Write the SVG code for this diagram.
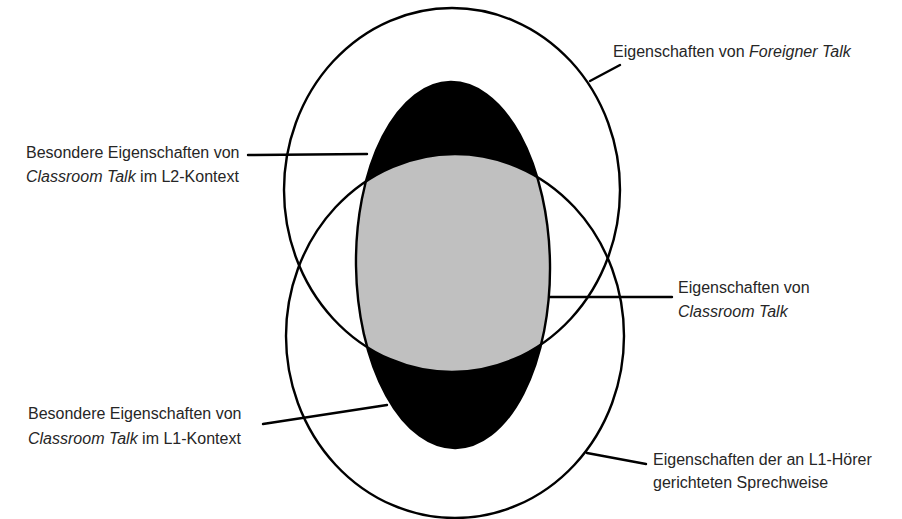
<svg xmlns="http://www.w3.org/2000/svg" width="902" height="519" viewBox="0 0 902 519">
  <style>
    .outline { fill: none; stroke: #000; stroke-width: 2.4; }
    .lbl { font-family: "Liberation Sans", Arial, sans-serif; font-size: 16px; fill: #262626; }
    .it { font-style: italic; }
    .conn { stroke: #000; stroke-width: 2.4; stroke-linecap: round; fill: none; }
  </style>
  <defs>
    <clipPath id="clipUpper">
      <ellipse cx="452" cy="190" rx="168" ry="182"/>
    </clipPath>
    <clipPath id="clipLower">
      <ellipse cx="455" cy="336" rx="169" ry="182"/>
    </clipPath>
  </defs>
  <rect width="902" height="519" fill="#fff"/>

  <g id="classroom-talk">
    <ellipse cx="453" cy="265" rx="97" ry="183" fill="#000" transform="rotate(-0.8 453 265)"/>
    <g clip-path="url(#clipLower)">
      <ellipse cx="453" cy="265" rx="97" ry="183" fill="#c0c0c0" clip-path="url(#clipUpper)" transform="rotate(-0.8 453 265)"/>
    </g>
    <ellipse class="outline" cx="453" cy="265" rx="97" ry="183" transform="rotate(-0.8 453 265)"/>
  </g>

  <g id="foreigner-talk">
    <ellipse class="outline" cx="452" cy="190" rx="168" ry="182"/>
  </g>

  <g id="l1-hoerer">
    <ellipse class="outline" cx="455" cy="336" rx="169" ry="182"/>
  </g>

  <g id="connectors">
    <line class="conn" x1="590" y1="81" x2="620" y2="65"/>
    <line class="conn" x1="248" y1="155" x2="367" y2="154"/>
    <line class="conn" x1="550" y1="297" x2="672" y2="297"/>
    <line class="conn" x1="263" y1="424" x2="387" y2="405"/>
    <line class="conn" x1="587" y1="453" x2="646" y2="464"/>
  </g>

  <g id="label-foreigner-talk">
    <text class="lbl" x="613" y="57">Eigenschaften von <tspan class="it">Foreigner Talk</tspan></text>
  </g>
  <g id="label-l2-kontext">
    <text class="lbl" x="26" y="158">Besondere Eigenschaften von</text>
    <text class="lbl" x="26" y="182"><tspan class="it">Classroom Talk</tspan> im L2-Kontext</text>
  </g>
  <g id="label-classroom-talk">
    <text class="lbl" x="678" y="293">Eigenschaften von</text>
    <text class="lbl it" x="678" y="317">Classroom Talk</text>
  </g>
  <g id="label-l1-kontext">
    <text class="lbl" x="28" y="419">Besondere Eigenschaften von</text>
    <text class="lbl" x="28" y="444"><tspan class="it">Classroom Talk</tspan> im L1-Kontext</text>
  </g>
  <g id="label-l1-hoerer">
    <text class="lbl" x="653" y="465">Eigenschaften der an L1-Hörer</text>
    <text class="lbl" x="653" y="488">gerichteten Sprechweise</text>
  </g>
</svg>
